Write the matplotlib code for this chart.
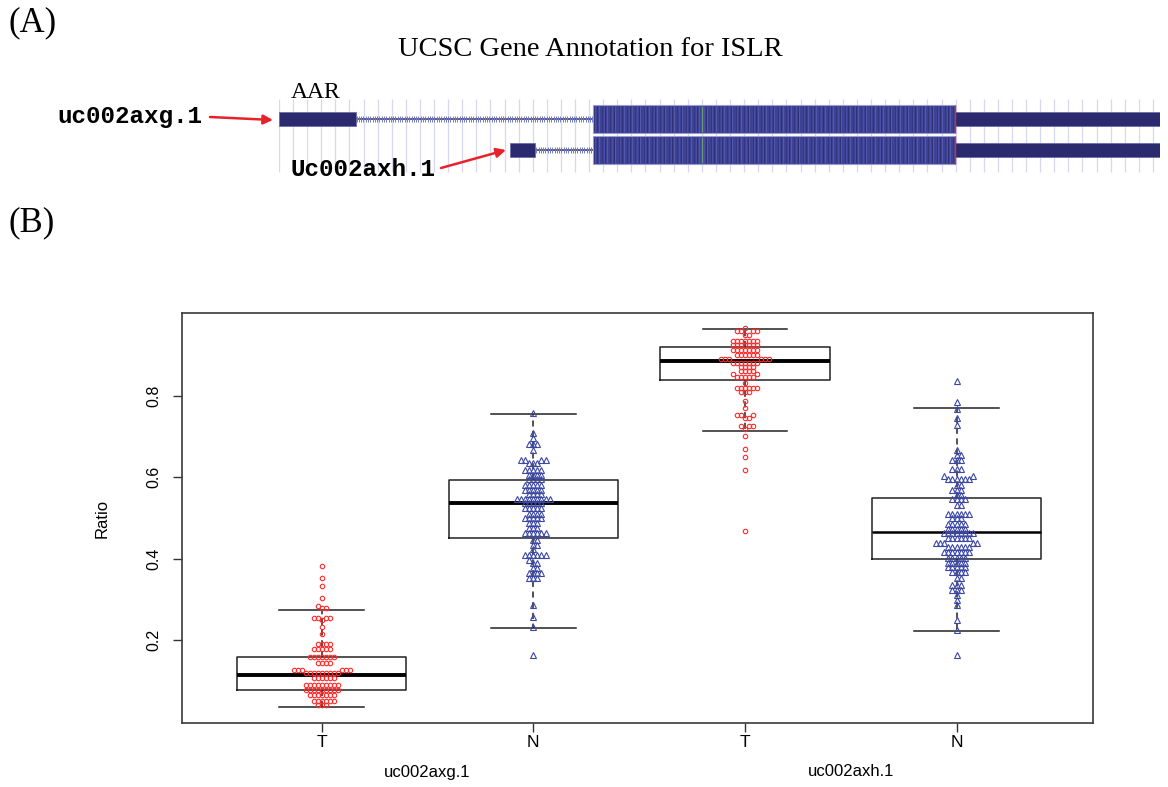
import numpy as np
import matplotlib
matplotlib.use("Agg")
import matplotlib.pyplot as plt
import matplotlib.transforms as mtrans
from matplotlib.patches import Rectangle

# ---- panel A: gene models (relative coordinates, 0..1000) ----
track_names = ["uc002axg.1", "Uc002axh.1"]
utr5 = [(0, 87), (262, 291)]
cds = [(356, 767), (356, 767)]
utr3 = [(767, 1000), (767, 1000)]
green_mark = 480

# ---- panel B: ratio values (level, count) per group ----
t1_levels = [0.383, 0.352, 0.334, 0.303, 0.285, 0.278, 0.255, 0.250, 0.233, 0.215, 0.190,
             0.179, 0.160, 0.144, 0.128, 0.119, 0.107, 0.090, 0.078, 0.066, 0.052, 0.041]
t1_counts = [1, 1, 1, 1, 1, 2, 4, 1, 1, 1, 4, 5, 7, 4, 6, 9, 6, 9, 9, 7, 6, 3]

n1_levels = [0.758, 0.708, 0.696, 0.682, 0.667, 0.642, 0.634, 0.619, 0.605, 0.595, 0.581,
             0.569, 0.558, 0.546, 0.536, 0.524, 0.511, 0.499, 0.488, 0.475, 0.462, 0.446,
             0.434, 0.423, 0.409, 0.397, 0.389, 0.377, 0.364, 0.352, 0.287, 0.258, 0.233, 0.164]
n1_counts = [1, 1, 1, 3, 1, 4, 3, 5, 4, 4, 5, 5, 4, 9, 5, 5, 4, 5, 3, 3, 6, 2, 2, 1, 6, 1,
             2, 2, 4, 3, 1, 1, 1, 1]

t2_levels = [0.966, 0.958, 0.950, 0.934, 0.924, 0.912, 0.900, 0.890, 0.881, 0.871, 0.861,
             0.853, 0.847, 0.832, 0.820, 0.810, 0.787, 0.769, 0.753, 0.745, 0.726, 0.718,
             0.702, 0.669, 0.650, 0.618, 0.468]
t2_counts = [1, 4, 2, 7, 7, 7, 6, 6, 7, 4, 4, 2, 5, 1, 6, 3, 1, 1, 3, 2, 3, 1, 1, 1, 1, 1, 1]

n2_levels = [0.836, 0.785, 0.767, 0.745, 0.728, 0.667, 0.655, 0.642, 0.620, 0.603, 0.595,
             0.581, 0.569, 0.556, 0.546, 0.532, 0.511, 0.499, 0.485, 0.472, 0.462, 0.450,
             0.439, 0.430, 0.417, 0.401, 0.390, 0.379, 0.368, 0.354, 0.336, 0.323, 0.311,
             0.299, 0.287, 0.250, 0.225, 0.164]
n2_counts = [1, 1, 1, 1, 1, 1, 2, 3, 3, 2, 6, 2, 3, 2, 4, 2, 6, 3, 5, 5, 8, 6, 5, 6, 7, 5,
             5, 5, 4, 2, 3, 3, 1, 1, 1, 1, 1, 1]

# box statistics: whislo, q1, med, q3, whishi
box_whislo = [0.037, 0.231, 0.714, 0.223]
box_q1 = [0.077, 0.450, 0.8386, 0.400]
box_med = [0.114, 0.5375, 0.886, 0.465]
box_q3 = [0.158, 0.593, 0.920, 0.548]
box_whishi = [0.275, 0.755, 0.963, 0.771]

tick_labels = ["T", "N", "T", "N"]
group_labels = ["uc002axg.1", "uc002axh.1"]

W, H = 1168, 787
fig = plt.figure(figsize=(W / 100, H / 100), dpi=100)


def fx(x):
    return x / W


def fy(y):
    return 1 - y / H


serif = "Liberation Serif"
sans = "Liberation Sans"
mono = "Liberation Mono"

fig.text(fx(9), fy(23), "(A)", family=serif, size=25, ha="left", va="center")
fig.text(fx(9), fy(223), "(B)", family=serif, size=25, ha="left", va="center")
fig.text(fx(590), fy(50), "UCSC Gene Annotation for ISLR", family=serif, size=20.5,
         ha="center", va="center")
fig.text(fx(291), fy(93), "AAR", family=serif, size=17, ha="left", va="center")
fig.text(fx(57), fy(117), track_names[0], family=mono, weight="bold", size=17.5,
         ha="left", va="center")
fig.text(fx(290), fy(170), track_names[1], family=mono, weight="bold", size=17.5,
         ha="left", va="center")

# gene track axes
ax_g = fig.add_axes([fx(279), fy(175), fx(1160) - fx(279), fy(95) - fy(175)])
ax_g.set_xlim(0, 1000)
ax_g.set_ylim(2.806, 0.226)
ax_g.axis("off")

# faint guide lines
ax_g.vlines(np.arange(0, 1001, 16), 0.35, 2.7, color="#D6D8EF", lw=0.9, zorder=0)

navy = "#2B2A6E"
cds_cols = ["#34377F", "#4B50A6", "#2F3175", "#5559AE", "#3E4294"]
for i in range(2):
    yc = i + 1
    # 5' block
    s, e = utr5[i]
    ax_g.add_patch(Rectangle((s, yc - 0.225), e - s, 0.45, fc=navy, ec="#6A6DB0", lw=0.6, zorder=3))
    # intron
    ax_g.plot([e, cds[i][0]], [yc, yc], color=navy, lw=1.1, zorder=2)
    hx = np.arange(e + 1, cds[i][0], 2.6)
    ax_g.vlines(hx, yc - 0.09, yc + 0.09, color="#7479BE", lw=0.7, zorder=2)
    # coding block with streak texture
    s, e = cds[i]
    ax_g.add_patch(Rectangle((s, yc - 0.45), e - s, 0.9, fc="#3E4294", ec="#9A9DD2", lw=0.8, zorder=3))
    sx = np.arange(s + 1, e, 1.9)
    ax_g.vlines(sx, yc - 0.43, yc + 0.43, colors=[cds_cols[k % 5] for k in range(len(sx))],
                lw=0.7, zorder=4)
    ax_g.vlines([green_mark], yc - 0.43, yc + 0.43, color="#6A9A7A", lw=1.0, zorder=5)
    ax_g.vlines([e], yc - 0.45, yc + 0.45, color="#D0303A", lw=1.0, zorder=5)
    # 3' block
    s, e = utr3[i]
    ax_g.add_patch(Rectangle((s, yc - 0.225), e - s, 0.45, fc=navy, ec="#6A6DB0", lw=0.6, zorder=3))

# red arrows (figure pixel space)
ax_o = fig.add_axes([0, 0, 1, 1], zorder=10)
ax_o.set_xlim(0, W)
ax_o.set_ylim(H, 0)
ax_o.axis("off")
arrow = dict(arrowstyle="-|>", color="#E8222A", lw=1.8, mutation_scale=14, shrinkA=0, shrinkB=0)
ax_o.annotate("", xy=(273, 120), xytext=(210, 117), arrowprops=arrow)
ax_o.annotate("", xy=(506, 150), xytext=(441, 168), arrowprops=arrow)

# ---- panel B ----
ax = fig.add_axes([fx(182), fy(723), fx(1093) - fx(182), fy(313) - fy(723)])
ax.set_xlim(0.34, 4.645)
ax.set_ylim(-0.003, 1.003)

stats = []
for k in range(4):
    stats.append(dict(whislo=box_whislo[k], q1=box_q1[k], med=box_med[k],
                      q3=box_q3[k], whishi=box_whishi[k], fliers=[]))
bp = ax.bxp(stats, positions=[1, 2, 3, 4], widths=0.8, capwidths=0.4, showfliers=False,
            boxprops=dict(color="#222222", lw=1.1),
            whiskerprops=dict(color="#222222", lw=1.1, ls=(0, (4, 3))),
            capprops=dict(color="#222222", lw=1.1),
            medianprops=dict(color="black", lw=2.8))
bp["medians"][3].set_linewidth(1.8)

px_per_unit = ax.transData.transform([1, 0])[0] - ax.transData.transform([0, 0])[0]


def swarm(vals, d):
    ypx = ax.transData.transform(np.column_stack([np.zeros(len(vals)), vals]))[:, 1]
    cands = [0.0]
    for j in range(1, 40):
        cands += [j * d, -j * d]
    xs = np.zeros(len(vals))
    px, py = [], []
    for i in np.argsort(ypx):
        y = ypx[i]
        for c in cands:
            ok = True
            for a, b in zip(px, py):
                if abs(b - y) < d and (a - c) ** 2 + (b - y) ** 2 < 0.97 * d * d:
                    ok = False
                    break
            if ok:
                break
        xs[i] = c
        px.append(c)
        py.append(y)
    return xs / px_per_unit


groups = [(t1_levels, t1_counts, "o", "#FF2A2A", 3.2, 4.0),
          (n1_levels, n1_counts, "^", "#3B47A5", 3.7, 4.1),
          (t2_levels, t2_counts, "o", "#FF2A2A", 3.2, 4.0),
          (n2_levels, n2_counts, "^", "#3B47A5", 3.7, 4.1)]
for k, (lev, cnt, mk, col, ms, d) in enumerate(groups):
    vals = np.repeat(lev, cnt)
    off = swarm(vals, d)
    ax.plot(k + 1 + off, vals, ls="none", marker=mk, ms=ms, mfc="none", mec=col, mew=0.8,
            zorder=4)

ax.set_xticks([1, 2, 3, 4])
ax.set_xticklabels(tick_labels, family=sans, size=12.5)
ax.set_yticks([0.2, 0.4, 0.6, 0.8])
ax.set_yticklabels(["0.2", "0.4", "0.6", "0.8"], family=sans, size=11.5, rotation=90, va="center")
ax.tick_params(axis="both", direction="out", length=6.5, width=1.0, color="#333333")
ax.tick_params(axis="x", pad=2)
ax.tick_params(axis="y", pad=8)
for sp in ax.spines.values():
    sp.set_linewidth(1.2)
    sp.set_color("#3a3a3a")
ax.set_ylabel("Ratio", family=sans, size=12)
ax.yaxis.set_label_coords(-0.079, 0.5)

blend = mtrans.blended_transform_factory(ax.transData, fig.transFigure)
for pos, lab in zip([1.5, 3.5], group_labels):
    ax.text(pos, fy(772), lab, transform=blend, family=sans, size=12, ha="center", va="center")

fig.savefig("out.png", dpi=100)
